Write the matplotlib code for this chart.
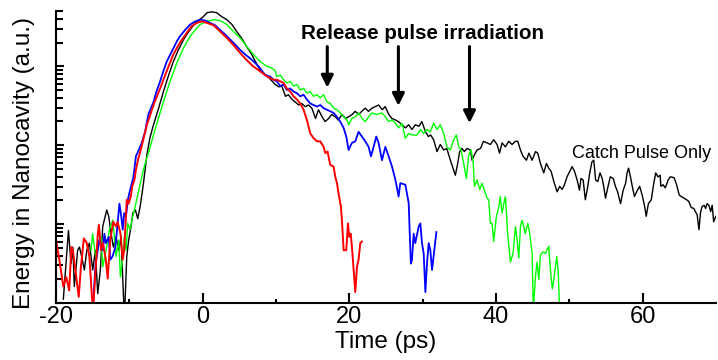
import numpy as np
import matplotlib
matplotlib.use("Agg")
import matplotlib.pyplot as plt
from matplotlib.ticker import LogLocator, NullFormatter, FixedLocator

plt.rcParams['font.family'] = ['Liberation Sans', 'DejaVu Sans']
plt.rcParams['axes.unicode_minus'] = False

# Values: time in ps, energy as log10 (decades above the axis floor)
t_red = [-20.0, -19.55, -19.0, -18.6, -18.2, -17.9, -17.7, -17.3, -16.9, -16.6,
         -16.2, -15.8, -15.45, -15.1, -14.95, -14.6, -14.3, -14.15, -13.85, -13.6,
         -13.2, -12.95, -12.6, -12.2, -11.8, -11.6, -11.2, -10.9, -10.7, -10.35,
         -10.1, -9.8, -9.6, -9.3, -9.1, -8.8, -8.5, -7.6, -6.7, -5.8,
         -4.9, -4.0, -3.1, -2.2, -1.5, -0.8, -0.1, 0.6, 1.5, 2.4,
         3.3, 4.2, 5.1, 6.0, 6.9, 7.8, 8.8, 9.7, 10.13, 10.58,
         11.04, 11.49, 11.95, 12.4, 12.86, 13.31, 13.77, 14.22, 14.68, 15.13,
         15.59, 16.04, 16.5, 16.72, 17.04, 17.41, 17.86, 18.09, 18.32, 18.54,
         18.86, 19.0, 19.23, 19.59, 19.82, 20.0, 20.2, 20.4, 20.82, 21.05,
         21.27, 21.5, 21.73]
red_log = [0.80, 0.55, 0.21, 0.33, 0.16, 0.71, 0.67, 0.38, 0.08, 0.46,
           0.82, 0.76, 0.59, 0.08, -0.1, 0.42, 0.88, 0.99, 0.67, 0.76,
           0.55, 0.31, 0.80, 1.03, 0.97, 1.03, 0.88, 0.55, 0.67, 1.31,
           1.26, 1.35, 1.48, 1.56, 1.69, 1.82, 1.92, 2.26, 2.51, 2.72,
           2.94, 3.15, 3.30, 3.42, 3.51, 3.55, 3.57, 3.55, 3.52, 3.44,
           3.36, 3.27, 3.17, 3.08, 3.00, 2.94, 2.87, 2.83, 2.83, 2.81,
           2.79, 2.72, 2.68, 2.62, 2.58, 2.53, 2.45, 2.32, 2.15, 2.09,
           2.05, 2.05, 1.98, 1.90, 1.92, 1.75, 1.73, 1.60, 1.52, 1.39,
           1.22, 1.05, 0.67, 0.67, 1.01, 0.84, 0.88, 0.67, 0.14, 0.46,
           0.55, 0.76, 0.78]

t_blue = [-15.0, -14.6, -14.3, -14.1, -13.6, -13.4, -13.2, -12.8, -12.6, -12.3,
          -11.9, -11.6, -11.35, -11.1, -10.9, -10.7, -10.45, -10.2, -9.9, -9.76,
          -9.44, -9.1, -8.8, -8.3, -7.85, -7.4, -6.7, -6.3, -5.8, -5.35,
          -4.9, -4.2, -3.5, -3.1, -2.4, -1.7, -1.0, -0.3, 0.35, 1.0,
          1.7, 2.4, 3.1, 3.75, 4.4, 5.1, 5.8, 6.5, 7.2, 7.8,
          8.5, 9.22, 9.67, 10.13, 10.58, 11.04, 11.49, 11.95, 12.4, 12.86,
          13.31, 13.77, 14.22, 14.68, 15.13, 15.59, 16.04, 16.5, 16.95, 17.41,
          17.86, 18.32, 18.77, 19.23, 19.59, 19.91, 20.36, 20.82, 21.27, 21.73,
          22.18, 22.64, 22.96, 23.32, 23.69, 24.0, 24.46, 24.92, 25.37, 25.83,
          26.3, 26.73, 26.96, 27.65, 28.1, 28.4, 28.56, 28.78, 29.0, 29.47,
          29.7, 29.92, 30.15, 30.38, 30.6, 30.83, 31.06, 31.29, 31.5, 31.88]
blue_log = [-0.1, 0.50, 0.67, 0.80, 0.67, 0.88, 0.76, 0.84, 0.55, 0.59,
            0.71, 1.01, 1.26, 1.10, 0.93, 1.14, 1.10, 1.31, 1.43, 1.48,
            1.60, 1.86, 1.92, 2.03, 2.17, 2.39, 2.55, 2.68, 2.81, 2.94,
            3.06, 3.19, 3.32, 3.38, 3.46, 3.53, 3.57, 3.59, 3.58, 3.55,
            3.52, 3.46, 3.40, 3.34, 3.28, 3.21, 3.15, 3.10, 3.04, 2.98,
            2.89, 2.87, 2.83, 2.81, 2.75, 2.77, 2.70, 2.72, 2.68, 2.66,
            2.62, 2.64, 2.58, 2.53, 2.51, 2.49, 2.51, 2.47, 2.45, 2.43,
            2.41, 2.36, 2.30, 2.22, 2.11, 1.94, 2.03, 2.05, 2.17, 2.11,
            2.05, 1.98, 1.86, 1.98, 2.11, 2.03, 1.81, 1.98, 1.86, 1.73,
            1.56, 1.35, 1.52, 1.50, 1.27, 0.50, 0.55, 0.88, 0.76, 0.97,
            1.01, 0.76, 0.63, 0.14, 0.50, 0.76, 0.67, 0.42, 0.59, 0.90]

t_green = [-15.22, -15.0, -14.54, -14.18, -13.86, -13.63, -13.17, -12.72, -12.26, -12.04,
           -11.81, -11.44, -11.22, -10.99, -10.67, -10.44, -10.22, -9.9, -9.53, -9.31,
           -8.71, -8.07, -7.71, -7.39, -6.71, -6.03, -5.35, -4.44, -3.53, -2.62,
           -1.71, -1.02, -0.34, 0.57, 1.48, 2.39, 3.3, 4.21, 5.12, 6.03,
           6.94, 7.85, 8.76, 9.44, 9.9, 10.13, 10.58, 11.04, 11.49, 11.95,
           12.4, 12.86, 13.31, 13.77, 14.22, 14.68, 15.13, 15.59, 16.04, 16.5,
           16.95, 17.41, 17.86, 18.32, 18.77, 19.23, 19.68, 19.91, 20.36, 20.82,
           21.27, 21.73, 22.18, 22.64, 23.1, 23.78, 24.46, 24.92, 25.37, 25.83,
           26.28, 26.73, 27.19, 27.65, 28.1, 28.55, 29.24, 29.7, 30.15, 30.6,
           31.06, 31.5, 31.97, 32.42, 32.88, 33.3, 33.79, 34.24, 34.6, 34.93,
           35.25, 35.61, 35.97, 36.3, 36.61, 36.9, 37.07, 37.43, 37.8, 38.1,
           38.57, 38.8, 39.02, 39.25, 39.47, 39.7, 40.07, 40.39, 40.6, 40.84,
           41.07, 41.3, 41.43, 41.6, 41.98, 42.34, 42.66, 42.9, 43.12, 43.35,
           43.57, 43.8, 44.0, 44.35, 44.62, 44.94, 45.1, 45.4, 45.62, 45.85,
           46.07, 46.44, 46.76, 47.2, 47.5, 47.7, 47.9, 48.3, 48.5, 48.7]
green_log = [0.67, 0.88, 0.55, 0.76, 0.84, 0.46, 0.67, 0.93, 1.05, 0.84,
             0.59, 0.80, 0.33, 0.50, 0.84, 0.67, 1.01, 0.93, 1.10, 1.18,
             1.43, 1.69, 1.81, 1.90, 2.13, 2.34, 2.55, 2.81, 3.04, 3.23,
             3.38, 3.46, 3.53, 3.57, 3.59, 3.58, 3.53, 3.44, 3.36, 3.25,
             3.15, 3.06, 3.00, 2.98, 2.94, 2.87, 2.89, 2.83, 2.79, 2.81,
             2.75, 2.77, 2.70, 2.72, 2.66, 2.68, 2.62, 2.64, 2.60, 2.64,
             2.55, 2.53, 2.47, 2.45, 2.41, 2.36, 2.32, 2.26, 2.34, 2.36,
             2.41, 2.34, 2.30, 2.36, 2.41, 2.39, 2.41, 2.36, 2.30, 2.32,
             2.28, 2.22, 2.28, 2.09, 2.15, 2.13, 2.13, 2.20, 2.15, 2.20,
             2.17, 2.28, 2.20, 2.26, 2.15, 1.98, 1.94, 2.07, 2.13, 1.98,
             1.94, 1.77, 1.58, 1.88, 1.94, 1.79, 1.48, 1.56, 1.44, 1.52,
             1.39, 1.33, 1.31, 1.01, 1.01, 0.78, 1.10, 1.22, 1.35, 1.14,
             1.26, 1.35, 1.14, 0.88, 0.52, 0.63, 0.97, 0.80, 0.57, 0.97,
             1.05, 0.97, 0.88, 1.01, 0.88, 0.63, -0.1, 0.35, 0.52, 0.30,
             0.61, 0.65, 0.63, 0.72, 0.35, 0.18, 0.30, 0.59, 0.40, -0.1]

t_black = [-19.0, -18.3, -17.95, -17.7, -17.5, -17.05, -16.8, -16.5, -16.13, -15.8,
           -15.45, -14.99, -14.63, -14.31, -13.95, -13.63, -13.08, -12.81, -12.49, -12.17,
           -11.81, -11.44, -11.13, -10.67, -10.35, -10.09, -9.76, -9.53, -9.17, -8.85,
           -8.53, -8.26, -8.07, -7.6, -7.2, -6.7, -6.0, -5.35, -4.7, -4.0,
           -3.3, -2.6, -1.9, -1.25, -0.6, 0.1, 0.6, 1.25, 1.9, 2.6,
           3.3, 4.0, 4.65, 5.3, 6.0, 6.7, 7.2, 7.8, 8.5, 9.2,
           9.9, 10.4, 10.8, 11.3, 11.7, 12.2, 12.6, 13.1, 13.5, 14.0,
           14.45, 14.9, 15.4, 15.8, 16.3, 16.7, 17.2, 17.6, 18.1, 18.5,
           19.0, 19.5, 19.9, 20.4, 20.8, 21.3, 21.7, 22.2, 22.6, 23.1,
           23.55, 24.0, 24.5, 24.9, 25.4, 25.8, 26.3, 26.7, 27.2, 27.65,
           28.1, 28.55, 29.0, 29.5, 29.9, 30.4, 30.8, 31.1, 31.5, 31.97,
           32.42, 32.88, 33.3, 33.79, 34.15, 34.47, 34.79, 35.06, 35.38, 35.7,
           36.07, 36.52, 36.75, 37.07, 37.43, 37.9, 38.3, 38.8, 39.25, 39.7,
           40.16, 40.5, 40.84, 41.3, 41.75, 42.2, 42.66, 42.98, 43.35, 43.7,
           44.17, 44.5, 44.94, 45.4, 45.71, 46.07, 46.53, 46.89, 47.21, 47.53,
           47.9, 48.35, 48.7, 49.03, 49.35, 49.7, 50.08, 50.4, 50.72, 51.08,
           51.4, 51.6, 51.9, 52.2, 52.5, 52.8, 53.1, 53.35, 53.6, 53.9,
           54.2, 54.5, 54.7, 54.95, 55.3, 55.6, 56.0, 56.3, 56.6, 57.0,
           57.36, 57.7, 57.9, 58.1, 58.4, 58.6, 58.9, 59.3, 59.6, 59.95,
           60.3, 60.5, 60.8, 61.2, 61.5, 61.8, 62.1, 62.4, 62.5, 62.8,
           63.1, 63.5, 63.8, 64.3, 64.65, 65.0, 65.3, 65.65, 66.0, 66.3,
           66.65, 67.0, 67.2, 67.45, 67.7, 67.9, 68.1, 68.4, 68.6, 68.8,
           69.05, 69.3, 69.5, 69.7, 70.0]
black_log = [0.05, 0.92, 0.50, 0.71, 0.21, 0.67, 0.71, 0.59, 0.42, 0.67,
             0.76, 0.42, 0.67, 0.12, 0.42, 0.97, 1.18, 1.10, 0.88, 0.71,
             0.84, 0.67, 0.84, -0.2, 0.59, 0.80, 0.97, 1.14, 1.18, 1.07,
             1.22, 1.39, 1.52, 1.88, 2.09, 2.26, 2.47, 2.68, 2.87, 3.06,
             3.21, 3.34, 3.44, 3.52, 3.58, 3.63, 3.68, 3.69, 3.68, 3.63,
             3.59, 3.53, 3.44, 3.36, 3.25, 3.15, 3.06, 2.96, 2.90, 2.84,
             2.77, 2.74, 2.75, 2.62, 2.64, 2.58, 2.55, 2.51, 2.53, 2.49,
             2.51, 2.47, 2.34, 2.45, 2.36, 2.30, 2.34, 2.39, 2.36, 2.32,
             2.39, 2.34, 2.36, 2.39, 2.43, 2.39, 2.43, 2.47, 2.43, 2.47,
             2.49, 2.51, 2.45, 2.49, 2.39, 2.34, 2.32, 2.30, 2.26, 2.22,
             2.26, 2.20, 2.26, 2.24, 2.30, 2.17, 2.11, 2.13, 2.07, 1.92,
             2.01, 1.94, 1.96, 1.81, 1.71, 1.62, 1.77, 1.92, 1.96, 1.92,
             1.96, 1.94, 1.81, 1.88, 1.94, 1.96, 2.05, 2.03, 2.01, 2.07,
             2.01, 1.90, 2.03, 1.98, 2.05, 2.01, 2.05, 2.05, 1.94, 1.86,
             1.81, 1.90, 1.81, 1.92, 1.90, 1.77, 1.65, 1.77, 1.71, 1.67,
             1.54, 1.41, 1.48, 1.44, 1.50, 1.60, 1.67, 1.73, 1.67, 1.56,
             1.43, 1.58, 1.56, 1.31, 1.46, 1.65, 1.79, 1.81, 1.56, 1.54,
             1.65, 1.58, 1.48, 1.33, 1.48, 1.60, 1.58, 1.48, 1.41, 1.26,
             1.43, 1.52, 1.65, 1.71, 1.58, 1.48, 1.35, 1.43, 1.48, 1.37,
             1.22, 1.10, 1.26, 1.31, 1.50, 1.65, 1.60, 1.62, 1.48, 1.50,
             1.46, 1.56, 1.60, 1.59, 1.50, 1.37, 1.35, 1.33, 1.31, 1.29,
             1.21, 1.20, 1.16, 1.12, 0.93, 1.14, 1.22, 1.24, 1.20, 1.26,
             1.24, 1.16, 1.24, 1.03, 1.10]

# release pulse arrival times (ps)
release_times = [17.0, 26.7, 36.4]
arrow_tips_log = [2.73, 2.50, 2.28]

fig = plt.figure(figsize=(7.18, 3.6), dpi=100)
ax = fig.add_axes([0.078, 0.158, 0.919, 0.811])

ax.plot(t_black, 10 ** np.array(black_log), color='black', lw=1.0)
ax.plot(t_green, 10 ** np.array(green_log), color='#00ff00', lw=1.0)
ax.plot(t_blue, 10 ** np.array(blue_log), color='#0000ff', lw=1.3)
ax.plot(t_red, 10 ** np.array(red_log), color='#ff0000', lw=1.4)

ax.set_yscale('log')
ax.set_ylim(1, 5000)
ax.set_xlim(-20, 70)

ax.set_xticks([-20, 0, 20, 40, 60])
ax.xaxis.set_minor_locator(FixedLocator([-10, 10, 30, 50]))
ax.yaxis.set_major_locator(LogLocator(base=10))
ax.yaxis.set_minor_locator(LogLocator(base=10, subs=np.arange(2, 10)))
ax.yaxis.set_major_formatter(NullFormatter())
ax.yaxis.set_minor_formatter(NullFormatter())

ax.tick_params(axis='both', which='both', direction='in', width=1.5)
ax.tick_params(axis='x', which='major', length=7, labelsize=17, pad=2)
ax.tick_params(axis='x', which='minor', length=3)
ax.tick_params(axis='y', which='major', length=6)
ax.tick_params(axis='y', which='minor', length=5)

for side in ['top', 'right']:
    ax.spines[side].set_visible(False)
for side in ['left', 'bottom']:
    ax.spines[side].set_linewidth(1.5)

ax.set_xlabel('Time (ps)', fontsize=17.5)
ax.xaxis.set_label_coords(0.5, -0.095)
ax.set_ylabel('Energy in Nanocavity (a.u.)', fontsize=17.5)
ax.yaxis.set_label_coords(-0.032, 0.48)

# annotations
ax.text(30.0, 10 ** 3.35, 'Release pulse irradiation', fontsize=14.8,
        fontweight='bold', ha='center', va='baseline')
for t0, tip in zip(release_times, arrow_tips_log):
    ax.annotate('', xy=(t0, 10 ** tip), xytext=(t0, 10 ** 3.25),
                arrowprops=dict(arrowstyle='-|>,head_length=0.6,head_width=0.3',
                                color='black', lw=2.2, mutation_scale=12,
                                shrinkA=0, shrinkB=0))
ax.text(50.4, 10 ** 1.834, 'Catch Pulse Only', fontsize=13, ha='left', va='baseline')

fig.savefig('out.png', dpi=100)
